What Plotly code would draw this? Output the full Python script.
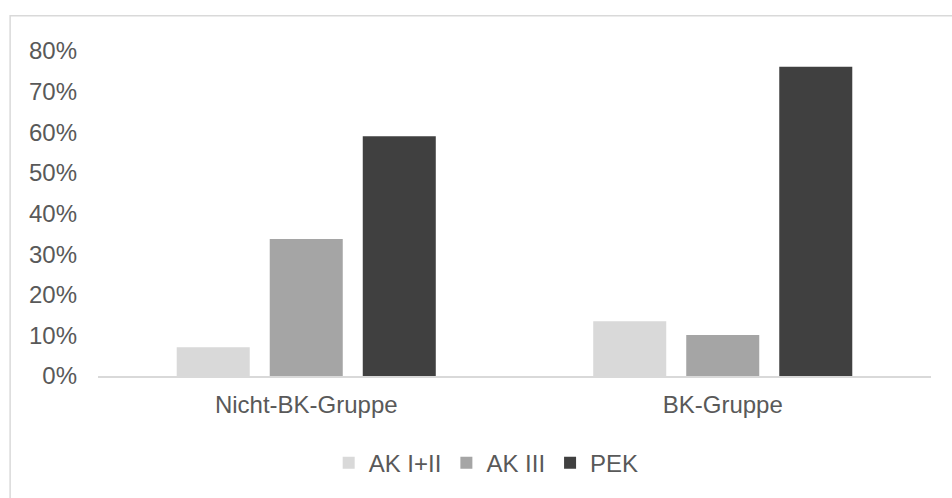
import plotly.graph_objects as go

categories = ["Nicht-BK-Gruppe", "BK-Gruppe"]
series_names = ["AK I+II", "AK III", "PEK"]
ak12 = [0.071, 0.135]
ak3 = [0.337, 0.101]
pek = [0.59, 0.761]
colors = ["#D9D9D9", "#A5A5A5", "#404040"]
y_ticks = [0, 0.1, 0.2, 0.3, 0.4, 0.5, 0.6, 0.7, 0.8]
y_ticklabels = ["0%", "10%", "20%", "30%", "40%", "50%", "60%", "70%", "80%"]

fig = go.Figure()
for name, vals, col in zip(series_names, [ak12, ak3, pek], colors):
    fig.add_trace(go.Bar(name=name, x=categories, y=vals, marker=dict(color=col, line=dict(width=0))))

font = dict(family="Liberation Sans, Arial, sans-serif", size=24, color="#595959")
fig.update_layout(
    width=952, height=498,
    margin=dict(l=98, r=21, t=51, b=122),
    paper_bgcolor="white", plot_bgcolor="white",
    barmode="group", bargap=0.33, bargroupgap=0.215,
    font=font,
    showlegend=True,
    legend=dict(orientation="h", x=0.466, xanchor="center", y=-0.268, yanchor="middle",
                font=font, itemwidth=30, traceorder="normal"),
    xaxis=dict(showgrid=False, showline=True, linecolor="#D9D9D9", linewidth=1.5,
               ticks="", tickfont=font, ticklabelstandoff=6, fixedrange=True),
    yaxis=dict(range=[0, 0.8], tickvals=y_ticks, ticktext=y_ticklabels, showgrid=False,
               showline=False, zeroline=False, ticks="", tickfont=font,
               ticklabelstandoff=20, fixedrange=True),
    shapes=[dict(type="rect", xref="paper", yref="paper", x0=-0.1055, x1=1.2, y0=-0.6, y1=1.1087,
                 line=dict(color="#D9D9D9", width=1.5), fillcolor="rgba(0,0,0,0)", layer="below")],
)

fig.write_html("out.html")
